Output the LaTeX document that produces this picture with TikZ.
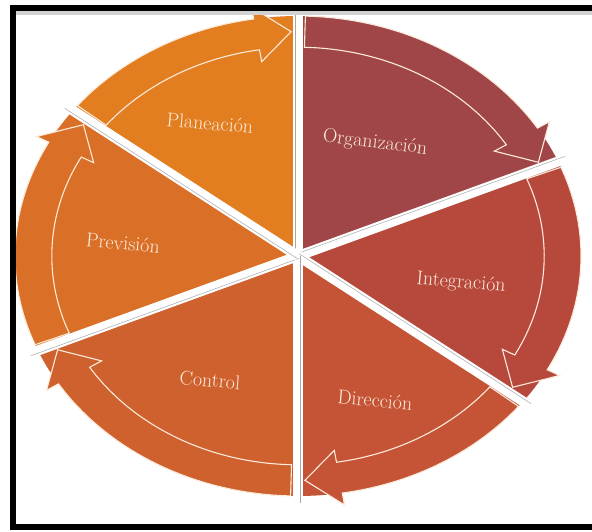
\documentclass[tikz,border=0pt]{standalone}
\usetikzlibrary{calc}
\definecolor{cPlan}{RGB}{226,126,32}
\definecolor{cPrev}{RGB}{218,112,40}
\definecolor{cCont}{RGB}{207,97,46}
\definecolor{cDir}{RGB}{197,84,54}
\definecolor{cInt}{RGB}{182,73,60}
\definecolor{cOrg}{RGB}{160,70,72}
\definecolor{cream}{RGB}{252,234,218}
\tikzset{
  gapline/.style={white, line width=10pt},
  gapshade/.style={gray!70, line width=0.5pt},
  bandline/.style={draw=cream, line width=1.1pt, line join=miter},
  lbl/.style={text=cream, font=\fontsize{20}{23}\selectfont, inner sep=0pt},
  frameline/.style={black, line width=6pt}
}
\newcommand{\mysector}[3]{%
  \fill[#3] (0,0) -- plot[domain=#1:#2,samples=50] (\x:1) -- cycle;
}
\newcommand{\myarrow}[3]{%
  \pgfmathsetmacro\hb{#2+9}%
  \pgfmathsetmacro\st{#1-1.5}%
  \pgfmathsetmacro\tp{#2+1.5}%
  \filldraw[#3, bandline] plot[domain=\st:\hb,samples=50] (\x:1)
     -- (\hb:1.05) -- (\tp:0.935) -- (\hb:0.82) -- (\hb:0.87)
     -- plot[domain=\hb:\st,samples=50] (\x:0.87) -- cycle;
}
\begin{document}
\begin{tikzpicture}[x=1pt,y=-1pt]
\useasboundingbox (0,0) rectangle (592,531);
\fill[white] (0,0) rectangle (592,531);
\begin{scope}[shift={(298,256)}, x=283pt, y=240pt]
  \coordinate (c) at (0,0);
  \mysector{142.7}{90}{cPlan}
  \mysector{90}{23.2}{cOrg}
  \mysector{23.2}{-37.3}{cInt}
  \mysector{-37.3}{-90}{cDir}
  \mysector{-90}{-156.8}{cCont}
  \mysector{203.2}{142.7}{cPrev}
  \foreach \a in {90,23.2,-37.3,-90,203.2,142.7}{
    \coordinate (p) at (\a:1.03);
    \draw[gapline] (c) -- (p);
    \draw[gapshade] ($(c)!2.5pt!90:(p)$) -- ($(p)!2.5pt!-90:(c)$);
  }
  \myarrow{142.7}{90}{cPlan}
  \myarrow{90}{23.2}{cOrg}
  \myarrow{23.2}{-37.3}{cInt}
  \myarrow{-37.3}{-90}{cDir}
  \myarrow{-90}{-156.8}{cCont}
  \myarrow{203.2}{142.7}{cPrev}
\end{scope}
\node[lbl, rotate=-5] (plan) at (210,123) {Planeación};
\node[lbl, rotate=-7] (org) at (375,143) {Organización};
\node[lbl, rotate=-5] (int) at (461,283) {Integración};
\node[lbl, rotate=-5] (dir) at (375,400) {Dirección};
\node[lbl, rotate=-5] (cont) at (210,380) {Control};
\node[lbl, rotate=-5] (prev) at (123,243) {Previsión};
\fill[gray!35] (16,11) rectangle (592,15);
\draw[frameline] (592,8) -- (13,8) -- (13,527) -- (592,527);
\end{tikzpicture}
\end{document}
